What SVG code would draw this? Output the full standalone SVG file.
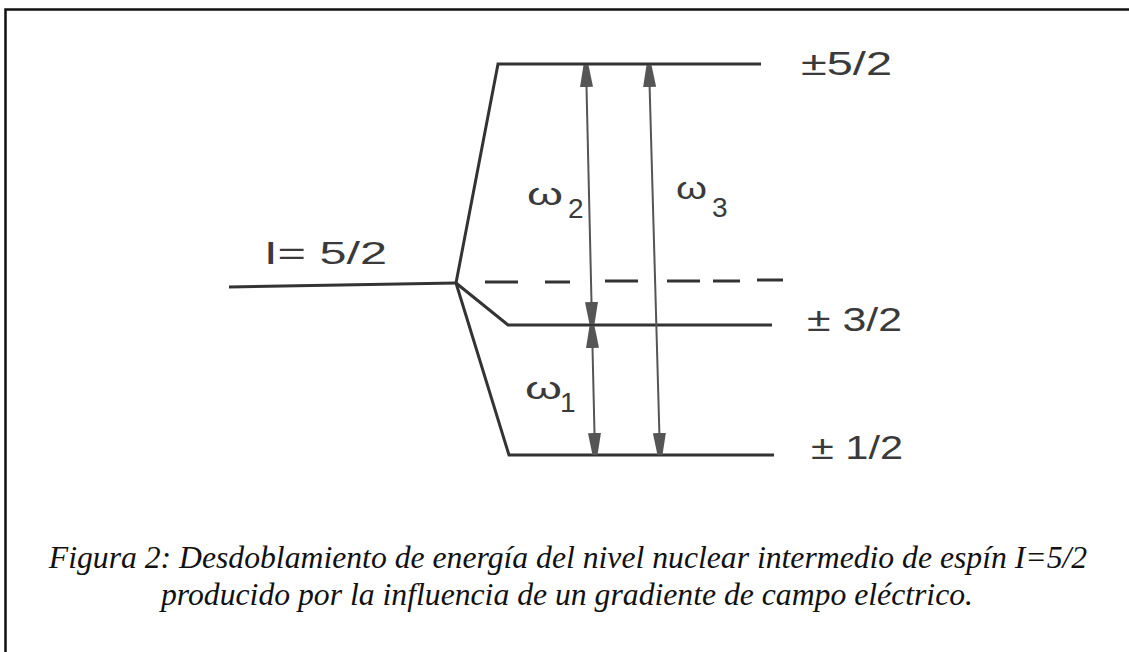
<svg xmlns="http://www.w3.org/2000/svg" width="1129" height="652" viewBox="0 0 1129 652">
<style>
.lvl{fill:none;stroke:#333;stroke-width:3;stroke-linejoin:miter}
.dash{stroke:#333;stroke-width:3}
.arr{stroke:#555;stroke-width:2;fill:none}
.lab{font-family:"Liberation Sans",Arial,sans-serif;fill:#3a3a3a}
.cap{font-family:"Liberation Serif","Times New Roman",serif;font-style:italic;font-size:31.7px;fill:#111}
</style>
<defs>
<marker id="ah" viewBox="0 0 22 14" refX="22" refY="7" markerWidth="22" markerHeight="14" markerUnits="userSpaceOnUse" orient="auto-start-reverse">
<path d="M0,0.5 L22,4.5 L22,9.5 L0,13.5 Z" fill="#555"/>
</marker>
</defs>
<rect x="0" y="0" width="1129" height="652" fill="#fff"/>
<path d="M5.5,652 V9.5 H1129" fill="none" stroke="#111" stroke-width="2.5"/>

<g id="levels">
<path id="level-I" class="lvl" d="M229,287 L456,283"/>
<path id="level-52" class="lvl" d="M456,283 L498,64 H761"/>
<path id="level-32" class="lvl" d="M456,283 L508,325 H772"/>
<path id="level-12" class="lvl" d="M456,283 L509,455 H774"/>
<g id="level-unsplit">
<line class="dash" x1="485" y1="282" x2="518" y2="282"/>
<line class="dash" x1="545" y1="282" x2="570" y2="282"/>
<line class="dash" x1="605" y1="281" x2="638" y2="281"/>
<line class="dash" x1="667" y1="281" x2="700" y2="281"/>
<line class="dash" x1="713" y1="281" x2="740" y2="281"/>
<line class="dash" x1="757" y1="280" x2="783" y2="280"/>
</g>
</g>

<g id="connectors">
<line id="w2" class="arr" x1="586" y1="65" x2="592" y2="324" marker-start="url(#ah)" marker-end="url(#ah)"/>
<line id="w1" class="arr" x1="592" y1="326" x2="595" y2="455" marker-start="url(#ah)" marker-end="url(#ah)"/>
<line id="w3" class="arr" x1="649" y1="65" x2="660" y2="455" marker-start="url(#ah)" marker-end="url(#ah)"/>
</g>

<g id="labels">
<text id="lab-I" class="lab" x="264" y="264" font-size="32" textLength="123" lengthAdjust="spacingAndGlyphs">I= 5/2</text>
<g id="lab-w2"><text class="lab" x="527" y="205" font-size="32" textLength="36" lengthAdjust="spacingAndGlyphs">ω</text><text class="lab" x="568" y="218" font-size="28">2</text></g>
<g id="lab-w3"><text class="lab" x="676" y="199" font-size="32" textLength="31" lengthAdjust="spacingAndGlyphs">ω</text><text class="lab" x="712" y="217" font-size="28">3</text></g>
<g id="lab-w1"><text class="lab" x="525" y="399" font-size="32" textLength="37" lengthAdjust="spacingAndGlyphs">ω</text><text class="lab" x="560" y="412" font-size="28">1</text></g>
<text id="lab-52" class="lab" x="801" y="75" font-size="34" textLength="91" lengthAdjust="spacingAndGlyphs">±5/2</text>
<text id="lab-32" class="lab" x="807" y="331" font-size="34" textLength="95" lengthAdjust="spacingAndGlyphs">± 3/2</text>
<text id="lab-12" class="lab" x="811" y="459" font-size="34" textLength="92" lengthAdjust="spacingAndGlyphs">± 1/2</text>
</g>

<g id="caption">
<text class="cap" x="568" y="568" text-anchor="middle">Figura 2: Desdoblamiento de energía del nivel nuclear intermedio de espín I=5/2</text>
<text class="cap" x="567" y="605" text-anchor="middle">producido por la influencia de un gradiente de campo eléctrico.</text>
</g>
</svg>
